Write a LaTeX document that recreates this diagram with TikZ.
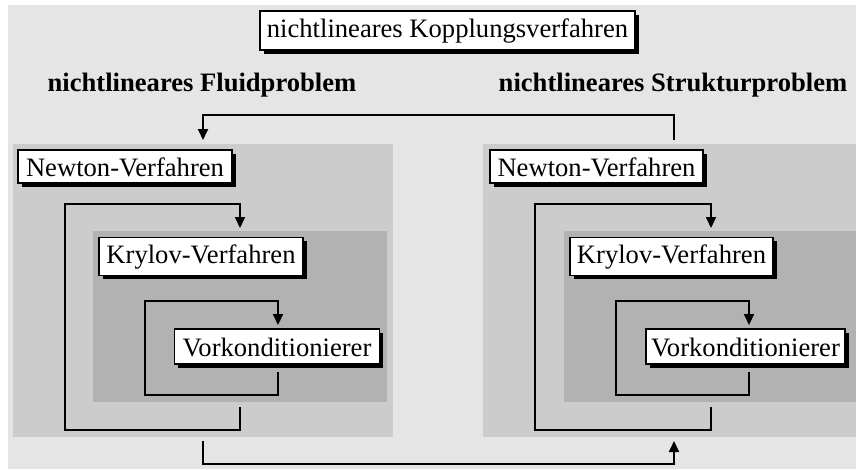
\documentclass[tikz,border=0pt]{standalone}
\usepackage{fontspec}
\setmainfont{Liberation Serif}
\usetikzlibrary{arrows.meta,shadows}
\definecolor{shadeA}{RGB}{229,229,229}
\definecolor{shadeB}{RGB}{204,204,204}
\definecolor{shadeC}{RGB}{178,178,178}
\begin{document}
\begin{tikzpicture}[x=1pt,y=-1pt,
  every node/.style={inner sep=0pt,outer sep=0pt},
  txt/.style={font=\fontsize{26.6}{30}\selectfont},
  labelbox/.style={txt,draw=black,line width=1.2pt,fill=white,
    text height=19pt,text depth=0pt,
    drop shadow={shadow xshift=3.5pt,shadow yshift=-3.5pt,opacity=1,fill=black}},
  raised/.style={text height=13pt},
  heading/.style={font=\fontsize{26.6}{30}\selectfont\bfseries,anchor=base},
  link/.style={line width=2pt},
  flow/.style={link,-{Triangle[length=11pt,width=10pt]}}]
\useasboundingbox (0,0) rectangle (856,469);

% nested solver levels
\fill[shadeA] (8,5) rectangle (856,469);
\fill[shadeB] (13,144) rectangle (393,437);
\fill[shadeB] (483,144) rectangle (856,437);
\fill[shadeC] (93,231) rectangle (387,402);
\fill[shadeC] (564,231) rectangle (856,402);

% labels
\node[labelbox,raised,minimum width=375pt,minimum height=39pt] (title) at (447.5,30.5) {nichtlineares Kopplungsverfahren};
\node[heading] (fluid) at (202,91) {nichtlineares Fluidproblem};
\node[heading] (struct) at (673,91) {nichtlineares Strukturproblem};

\node[labelbox,minimum width=214pt,minimum height=33pt] (newtonL) at (125,166.5) {Newton-Verfahren};
\node[labelbox,minimum width=213pt,minimum height=33pt] (newtonR) at (596.5,166.5) {Newton-Verfahren};
\node[labelbox,raised,minimum width=204pt,minimum height=38pt] (krylovL) at (201,256.5) {Krylov-Verfahren};
\node[labelbox,raised,minimum width=203pt,minimum height=38pt] (krylovR) at (671.5,256.5) {Krylov-Verfahren};
\node[labelbox,minimum width=205pt,minimum height=35pt] (vorkL) at (277,346.5) {Vorkonditionierer};
\node[labelbox,minimum width=199pt,minimum height=35pt] (vorkR) at (745.5,346.5) {Vorkonditionierer};

% connector ends
\coordinate (cplOut) at (674,140);
\coordinate (cplIn) at (203,140);
\coordinate (cplBackOut) at (203,441);
\coordinate (cplBackIn) at (674,441);
\coordinate (kLin) at (240,228);  \coordinate (kLout) at (240,407);
\coordinate (kRin) at (711,228);  \coordinate (kRout) at (711,407);
\coordinate (vLin) at (278,325);  \coordinate (vLout) at (278,372);
\coordinate (vRin) at (749,325);  \coordinate (vRout) at (749,372);

% coupling loop
\draw[flow] (cplOut) |- (203,115) -- (cplIn);
\draw[flow] (cplBackOut) |- (674,464) -- (cplBackIn);

% Newton loops
\draw[flow] (kLout) |- (65,430) |- (240,204) -- (kLin);
\draw[flow] (kRout) |- (535,430) |- (711,204) -- (kRin);

% Krylov loops
\draw[flow] (vLout) |- (145,395) |- (278,301) -- (vLin);
\draw[flow] (vRout) |- (616,395) |- (749,301) -- (vRin);
\end{tikzpicture}
\end{document}
